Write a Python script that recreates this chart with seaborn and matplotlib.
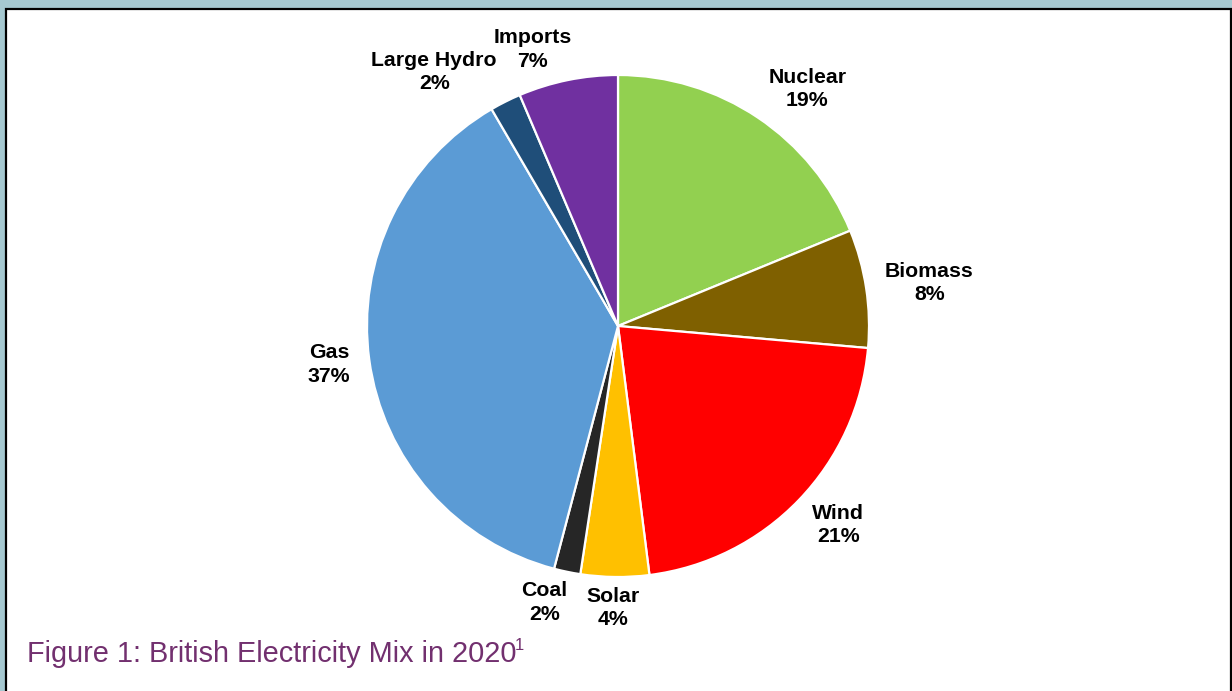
import numpy as np
import matplotlib
matplotlib.use("Agg")
import matplotlib.pyplot as plt
import seaborn as sns
from matplotlib.patches import Rectangle

sns.set_theme(style="white")
plt.rcParams['font.family'] = ['Liberation Sans', 'DejaVu Sans']

# ---- data ----
sources = ["Nuclear", "Biomass", "Wind", "Solar", "Coal", "Gas", "Large Hydro", "Imports"]
shares = [18.8, 7.6, 21.6, 4.4, 1.7, 37.5, 2.0, 6.4]
pct_labels = ["19%", "8%", "21%", "4%", "2%", "37%", "2%", "7%"]
colors = ["#92D050", "#7F6000", "#FF0000", "#FFC000", "#262626", "#5B9BD5", "#1F4E79", "#7030A0"]
caption = "Figure 1: British Electricity Mix in 2020"

W, H = 1232, 691
fig = plt.figure(figsize=(W / 100, H / 100), dpi=100)
fig.patch.set_facecolor("#A5C8D0")

ax = fig.add_axes([0, 0, 1, 1])
ax.set_facecolor("none")
ax.set_xlim(0, W)
ax.set_ylim(0, H)
# white panel with black frame
ax.add_patch(Rectangle((5.5, -20), 1230.5 - 5.5, (H - 8.5) + 20, facecolor="white",
                       edgecolor="black", linewidth=1.6, zorder=0))

cx, cy, R = 618, H - 326, 251
palette = sns.color_palette(colors)
wedges, _ = ax.pie(shares, colors=palette, startangle=90, counterclock=False,
                   center=(cx, cy), radius=R, frame=True,
                   wedgeprops=dict(edgecolor="white", linewidth=1.6, zorder=2))
ax.set_xlim(0, W)
ax.set_ylim(0, H)
ax.set_aspect("equal")
ax.axis("off")

fig.canvas.draw()
renderer = fig.canvas.get_renderer()
gap_x, gap_y = R + 19, R + 14
for w, name, pl in zip(wedges, sources, pct_labels):
    ang = np.deg2rad((w.theta1 + w.theta2) / 2)
    ux, uy = np.cos(ang), np.sin(ang)
    t = ax.text(0, 0, f"{name}\n{pl}", ha="center", va="center", fontsize=15.3,
                fontweight="bold", color="black", linespacing=1.3, zorder=3)
    bb = t.get_window_extent(renderer)
    tw, th = bb.width, bb.height
    hx = np.sign(ux) * min(1.0, 4 * abs(ux)) * tw / 2
    vy = np.sign(uy) * min(1.0, 1.3 * abs(uy)) * th / 2 * 0.8
    t.set_position((cx + gap_x * ux + hx, cy + gap_y * uy + vy))

ax.text(27, H - 654, caption, fontsize=20.8, color="#72306F",
        ha="left", va="center", zorder=3)
ax.text(515, H - 646, "1", fontsize=12, color="#72306F", ha="left", va="center", zorder=3)

fig.savefig("out.png", dpi=100)
